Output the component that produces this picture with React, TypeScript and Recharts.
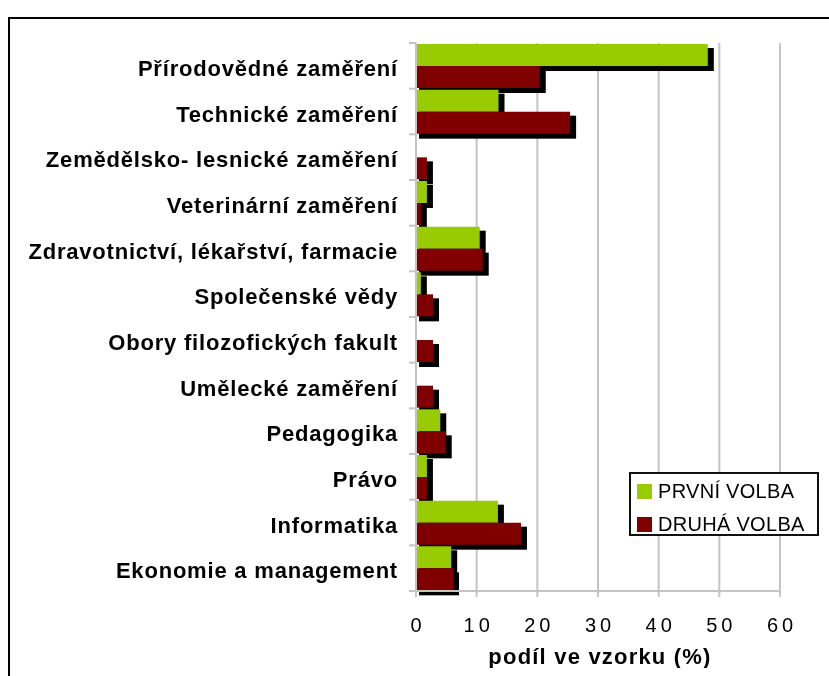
import React from "react";
import { Bar, BarChart, CartesianGrid, Legend, XAxis, YAxis } from "recharts";

const categories = [
  "Přírodovědné zaměření",
  "Technické zaměření",
  "Zemědělsko- lesnické zaměření",
  "Veterinární zaměření",
  "Zdravotnictví, lékařství, farmacie",
  "Společenské vědy",
  "Obory filozofických fakult",
  "Umělecké zaměření",
  "Pedagogika",
  "Právo",
  "Informatika",
  "Ekonomie a management",
];
const prvniVolba = [48.1, 13.6, 0, 1.8, 10.5, 0.8, 0, 0, 4.0, 1.8, 13.5, 5.8];
const druhaVolba = [20.4, 25.4, 1.8, 0.8, 11.0, 2.8, 2.8, 2.8, 4.9, 1.8, 17.3, 6.1];
const seriesNames = ["PRVNÍ VOLBA", "DRUHÁ VOLBA"];
const xTicks = [0, 10, 20, 30, 40, 50, 60];
const xTitle = "podíl ve vzorku (%)";

const GREEN = "#99cc00";
const MAROON = "#800000";
const GRID = "#c4c4c4";
const FONT = '"Liberation Sans", Arial, sans-serif';
const LABEL_GAP = 19;

const data = categories.map((name, i) => ({
  name,
  prvni: prvniVolba[i],
  druha: druhaVolba[i],
}));

// excel-like drop shadow, drawn in its own pass under all bars
function ShadowShape(props: any) {
  const { x, y, width, height } = props;
  if (!width || width <= 0) return <g />;
  return <rect x={x + 3} y={y + 4} width={width + 3} height={height + 1} fill="#000" />;
}

// label plus the small excel tick marks sitting on the category boundaries
function CategoryTick({ x, y, payload, height, visibleTicksCount, index }: any) {
  const half = height / visibleTicksCount / 2;
  const axisX = x + LABEL_GAP;
  const isLast = index === visibleTicksCount - 1;
  return (
    <g>
      <line x1={axisX - 7} x2={axisX} y1={y - half} y2={y - half} stroke={GRID} strokeWidth={2} />
      {isLast && <line x1={axisX - 7} x2={axisX} y1={y + half} y2={y + half} stroke={GRID} strokeWidth={2} />}
      <text
        x={x + 1}
        y={y}
        dy="0.46em"
        textAnchor="end"
        fontFamily={FONT}
        fontSize={22}
        fontWeight="bold"
        letterSpacing={0.8}
        fill="#000"
      >
        {payload.value}
      </text>
    </g>
  );
}

function ValueTick({ x, y, payload }: any) {
  return (
    <text
      x={x + 2}
      y={y + 26}
      dy="0.36em"
      textAnchor="middle"
      fontFamily={FONT}
      fontSize={20}
      letterSpacing={4}
      fill="#000"
    >
      {payload.value}
    </text>
  );
}

function AxisTitle({ viewBox }: any) {
  const cx = viewBox.x + viewBox.width / 2;
  return (
    <text
      x={cx + 2}
      y={viewBox.y + 73}
      textAnchor="middle"
      fontFamily={FONT}
      fontSize={22}
      fontWeight="bold"
      letterSpacing={1.2}
      fill="#000"
    >
      {xTitle}
    </text>
  );
}

function LegendBox() {
  const colors = [GREEN, MAROON];
  return (
    <div
      style={{
        boxSizing: "border-box",
        width: 190,
        height: 64,
        border: "2px solid #111",
        background: "#fff",
        position: "relative",
        fontFamily: FONT,
        fontSize: 20,
        color: "#000",
      }}
    >
      {seriesNames.map((s, i) => (
        <div
          key={s}
          style={{ position: "absolute", left: 6, top: 4 + i * 33, display: "flex", alignItems: "center", height: 26 }}
        >
          <span style={{ width: 15, height: 15, background: colors[i], display: "inline-block", marginRight: 6 }} />
          <span style={{ letterSpacing: 0.3, lineHeight: "26px" }}>{s}</span>
        </div>
      ))}
    </div>
  );
}

export default function App() {
  return (
    <div style={{ position: "relative", width: 813, height: 660, fontFamily: FONT }}>
      {/* outer frame of the pasted chart, cut off at the right and bottom */}
      <div
        style={{
          position: "fixed",
          left: 8,
          top: 17,
          width: 900,
          height: 900,
          border: "2px solid #000",
        }}
      />
      <div style={{ position: "absolute", left: 0, top: 0 }}>
        <BarChart
          width={813}
          height={660}
          data={data}
          layout="vertical"
          margin={{ top: 35, right: 41, bottom: 0, left: 0 }}
          barCategoryGap={1}
          barGap={0}
        >
          <CartesianGrid horizontal={false} stroke={GRID} strokeWidth={2} />
          <XAxis
            type="number"
            domain={[0, 60]}
            ticks={xTicks}
            interval={0}
            height={77}
            axisLine={{ stroke: GRID, strokeWidth: 2 }}
            tickLine={{ stroke: GRID, strokeWidth: 2 }}
            tickSize={6}
            tick={<ValueTick />}
            label={<AxisTitle />}
          />
          <YAxis
            yAxisId="cat"
            type="category"
            dataKey="name"
            width={408}
            interval={0}
            tickLine={false}
            tickSize={0}
            tickMargin={LABEL_GAP}
            axisLine={{ stroke: GRID, strokeWidth: 2 }}
            tick={<CategoryTick />}
          />
          <YAxis yAxisId="shadow" type="category" dataKey="name" hide />
          <Bar yAxisId="shadow" dataKey="prvni" shape={<ShadowShape />} isAnimationActive={false} legendType="none" />
          <Bar yAxisId="shadow" dataKey="druha" shape={<ShadowShape />} isAnimationActive={false} legendType="none" />
          <Bar yAxisId="cat" dataKey="prvni" name={seriesNames[0]} fill={GREEN} isAnimationActive={false} />
          <Bar yAxisId="cat" dataKey="druha" name={seriesNames[1]} fill={MAROON} isAnimationActive={false} />
          <Legend
            layout="vertical"
            align="center"
            verticalAlign="middle"
            wrapperStyle={{ position: "absolute", left: 621, top: 464, width: 190 }}
            content={() => <LegendBox />}
          />
        </BarChart>
      </div>
    </div>
  );
}
